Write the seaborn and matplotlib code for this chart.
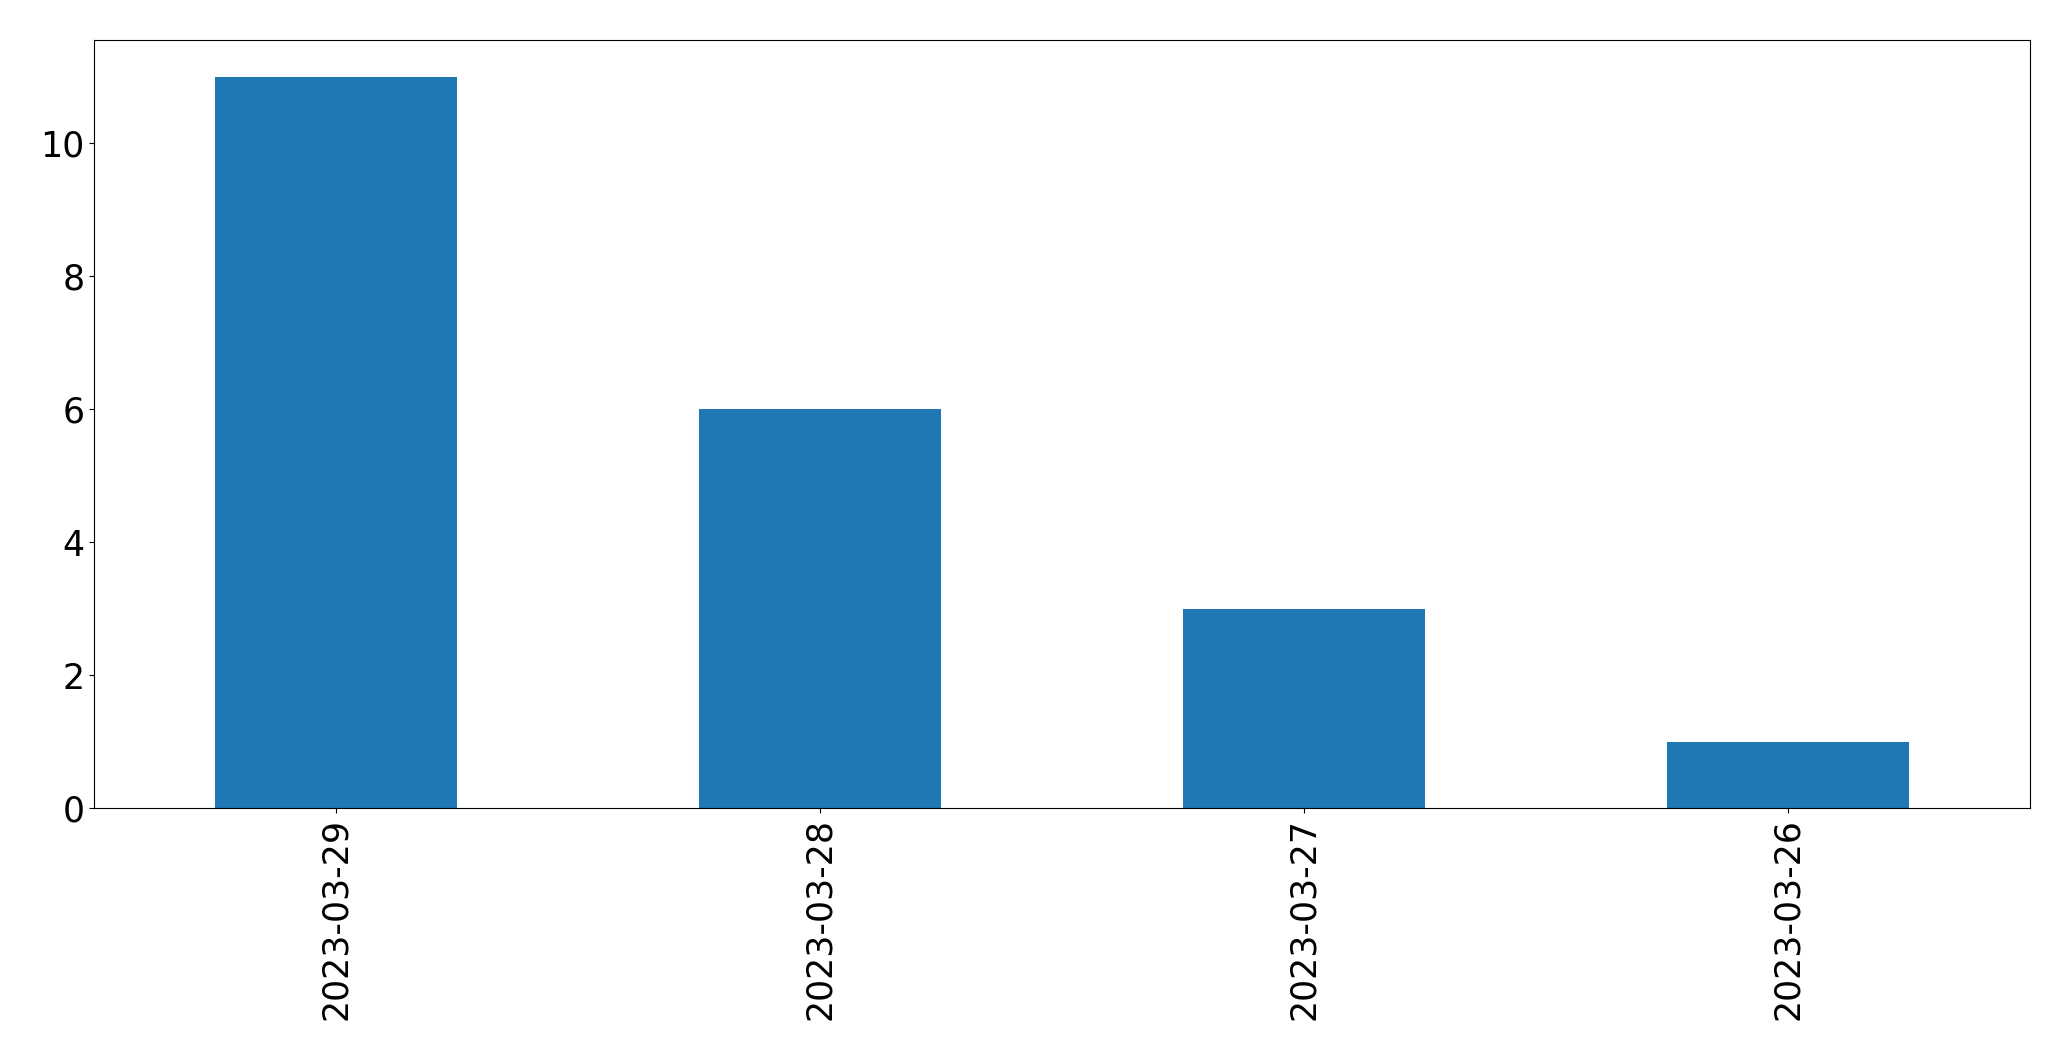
import matplotlib
matplotlib.use("Agg")
import matplotlib.pyplot as plt
import seaborn as sns
import pandas as pd

dates = ["2023-03-29", "2023-03-28", "2023-03-27", "2023-03-26"]
counts = [11, 6, 3, 1]

sns.set_theme(style="white")
plt.rcParams['font.family'] = ['DejaVu Sans']
plt.rcParams['axes.edgecolor'] = 'black'
plt.rcParams['axes.linewidth'] = 0.8

df = pd.DataFrame({"date": dates, "count": counts})

fig = plt.figure(figsize=(20.71, 10.61), dpi=100)
ax = fig.add_axes([94/2071, 1-808/1061, (2030-94)/2071, (808-40)/1061])
sns.barplot(data=df, x="date", y="count", order=dates, color="#1f77b4",
            saturation=1, width=0.5, linewidth=0, edgecolor="none", ax=ax)
ax.set_xlim(-0.5, 3.5)
ax.set_ylim(0, 11.55)
ax.set_xlabel("")
ax.set_ylabel("")
ax.tick_params(axis="both", which="major", labelsize=25, length=3.5, width=0.8,
               color="black", labelcolor="black", bottom=True, left=True)
plt.setp(ax.get_xticklabels(), rotation=90)
for s in ax.spines.values():
    s.set_visible(True)
    s.set_color("black")
    s.set_linewidth(0.8)
fig.savefig("out.png", dpi=100)
